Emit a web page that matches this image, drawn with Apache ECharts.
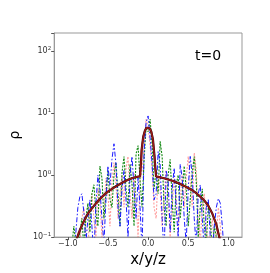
<!DOCTYPE html>
<html><head><meta charset="utf-8">
<script src="https://cdn.jsdelivr.net/npm/echarts@6/dist/echarts.min.js"></script>
<style>html,body{margin:0;padding:0;background:#fff}#c{width:270px;height:273px}</style>
</head><body><div id="c"></div>
<script>
// Smooth profile (dark red)
const profX = [-0.90,-0.85,-0.80,-0.75,-0.70,-0.65,-0.60,-0.55,-0.50,-0.45,-0.40,-0.35,-0.30,-0.25,-0.20,-0.15,-0.10,-0.09,-0.08,-0.06,-0.04,-0.02,0.00,0.02,0.04,0.06,0.08,0.09,0.10,0.15,0.20,0.25,0.30,0.35,0.40,0.45,0.50,0.55,0.60,0.65,0.70,0.75,0.80,0.85,0.90];
const profRho = [0.085,0.13,0.18,0.24,0.29,0.35,0.41,0.48,0.54,0.60,0.66,0.72,0.78,0.84,0.89,0.93,0.96,1.5,2.6,4.2,5.2,5.8,6.0,5.7,5.0,3.8,2.0,1.3,0.95,0.92,0.89,0.85,0.81,0.77,0.72,0.67,0.62,0.57,0.51,0.45,0.39,0.32,0.24,0.16,0.085];
// Noisy particle profiles, sampled every 0.025 from -1 to 1
const noiseX = [];
for (let i = 0; i <= 80; i++) noiseX.push(+(-1 + i * 0.025).toFixed(3));
const blueRho = [0.02,0.04,0.08,0.05,0.12,0.3,0.45,0.5,0.25,0.08,0.2,0.4,0.15,0.05,0.35,1.0,0.6,0.2,0.08,0.4,1.4,0.7,1.8,3.2,1.5,0.3,0.15,0.6,1.2,0.4,0.1,1.0,2.0,0.6,0.2,0.9,0.3,0.06,2.5,7,9,4,1.5,0.4,0.5,2.4,1.5,0.2,0.05,1.2,0.8,0.12,0.6,1.3,0.3,0.1,1.5,0.9,0.2,0.08,0.6,2.0,1.0,0.2,0.07,0.5,0.7,0.2,0.06,0.3,0.4,0.1,0.05,0.15,0.3,0.42,0.35,0.15,0.05,0.02,0.01];
const greenRho = [0.01,0.03,0.07,0.15,0.08,0.04,0.12,0.2,0.07,0.2,0.35,0.12,0.5,0.7,0.25,0.15,1.4,0.9,0.2,0.5,1.2,0.4,0.3,1.0,1.6,0.5,0.15,1.1,2.0,0.6,0.3,1.5,0.7,0.15,2.2,3.0,0.8,0.3,1.8,6,5,8,3,0.6,1.2,0.5,3.5,2.0,0.3,0.15,1.0,1.8,0.4,0.12,0.7,1.0,0.2,0.5,1.4,0.6,0.15,0.4,1.1,2.0,0.8,0.1,0.3,0.6,0.15,0.08,0.3,0.2,0.06,0.15,0.1,0.04,0.02,0.01,0.01,0.01,0.01];
const redRho = [0.01,0.02,0.05,0.03,0.06,0.12,0.08,0.2,0.3,0.12,0.06,0.3,0.5,0.2,0.1,0.6,0.4,0.1,0.3,0.9,0.5,0.15,0.8,1.6,0.7,0.2,0.5,1.0,0.3,1.3,2.0,0.5,0.2,1.1,0.4,0.1,0.8,1.2,3,8,6,3,1.2,0.3,0.2,1.0,0.6,0.15,0.5,1.2,0.4,0.1,0.3,0.9,0.5,0.12,0.4,1.0,0.3,0.9,2.0,0.8,0.3,2.3,1.2,0.2,0.08,0.3,0.5,0.15,0.05,0.12,0.2,0.07,0.1,0.3,0.15,0.05,0.02,0.01,0.01];
const xTicks = [-1.0,-0.5,0.0,0.5,1.0];
const yTickExp = [-1,0,1,2];
const titleText = 't=0';
const xLabel = 'x/y/z';
const yLabel = 'ρ';

const zip = (xs, ys) => xs.map((x, i) => [x, ys[i]]);
const font = 'DejaVu Sans';
const chart = echarts.init(document.getElementById('c'), null, {renderer: 'canvas'});
chart.setOption({
  animation: false,
  backgroundColor: '#fff',
  grid: {left: 33, right: 28, top: 33, bottom: 30, show: true, borderColor: '#999', borderWidth: 1},
  title: {text: titleText, left: 190, top: 44, textStyle: {fontFamily: font, fontSize: 14, fontWeight: 'normal', color: '#000'}},
  xAxis: {
    type: 'value', min: -1.17, max: 1.17,
    name: xLabel, nameLocation: 'middle', nameGap: 15,
    nameTextStyle: {fontFamily: font, fontSize: 15, color: '#000'},
    axisLine: {show: true, onZero: false, lineStyle: {color: '#999'}},
    axisTick: {show: true, length: 3, lineStyle: {color: '#555'}, customValues: xTicks},
    axisLabel: {fontFamily: font, fontSize: 8, color: '#333', margin: 3, customValues: xTicks,
      formatter: v => xTicks.some(t => Math.abs(t - v) < 1e-6) ? v.toFixed(1).replace('-', '−') : ''},
    splitLine: {show: false}
  },
  yAxis: {
    type: 'log', logBase: 10, min: 0.1, max: 196,
    name: yLabel, nameLocation: 'middle', nameGap: 24, nameRotate: 90,
    nameTextStyle: {fontFamily: font, fontSize: 14, color: '#000'},
    axisLine: {show: true, onZero: false, lineStyle: {color: '#999'}},
    axisTick: {show: true, length: 3, lineStyle: {color: '#555'}},
    minorTick: {show: false},
    axisLabel: {fontFamily: font, fontSize: 8, color: '#333', margin: 3,
      formatter: v => {
        const e = Math.round(Math.log10(v));
        if (Math.abs(Math.log10(v) - e) > 1e-6 || !yTickExp.includes(e)) return '';
        return '{b|10}{s|' + String(e).replace('-', '−') + '}';
      },
      rich: {b: {fontFamily: font, fontSize: 8, color: '#333'}, s: {fontFamily: font, fontSize: 5.5, color: '#333', padding: [0, 0, 6, 0]}}
    },
    splitLine: {show: false}
  },
  series: [
    {type: 'line', data: zip(noiseX, redRho), showSymbol: false, clip: true, z: 2,
      lineStyle: {color: 'rgba(255,90,90,0.6)', width: 1.1, type: [2, 1.5]}},
    {type: 'line', data: zip(noiseX, greenRho), showSymbol: false, clip: true, z: 3,
      lineStyle: {color: '#118811', width: 1.1, type: [2, 1.3]}},
    {type: 'line', data: zip(noiseX, blueRho), showSymbol: false, clip: true, z: 4,
      lineStyle: {color: '#1a1aff', width: 1.0, type: [5, 2, 1.5, 2]}},
    {type: 'line', data: zip(profX, profRho), showSymbol: false, clip: true, z: 5,
      lineStyle: {color: '#2a0a0a', width: 2.2}},
    {type: 'line', data: zip(profX, profRho), showSymbol: false, clip: true, z: 6,
      lineStyle: {color: '#9a1818', width: 1.5}}
  ]
});
</script></body></html>
